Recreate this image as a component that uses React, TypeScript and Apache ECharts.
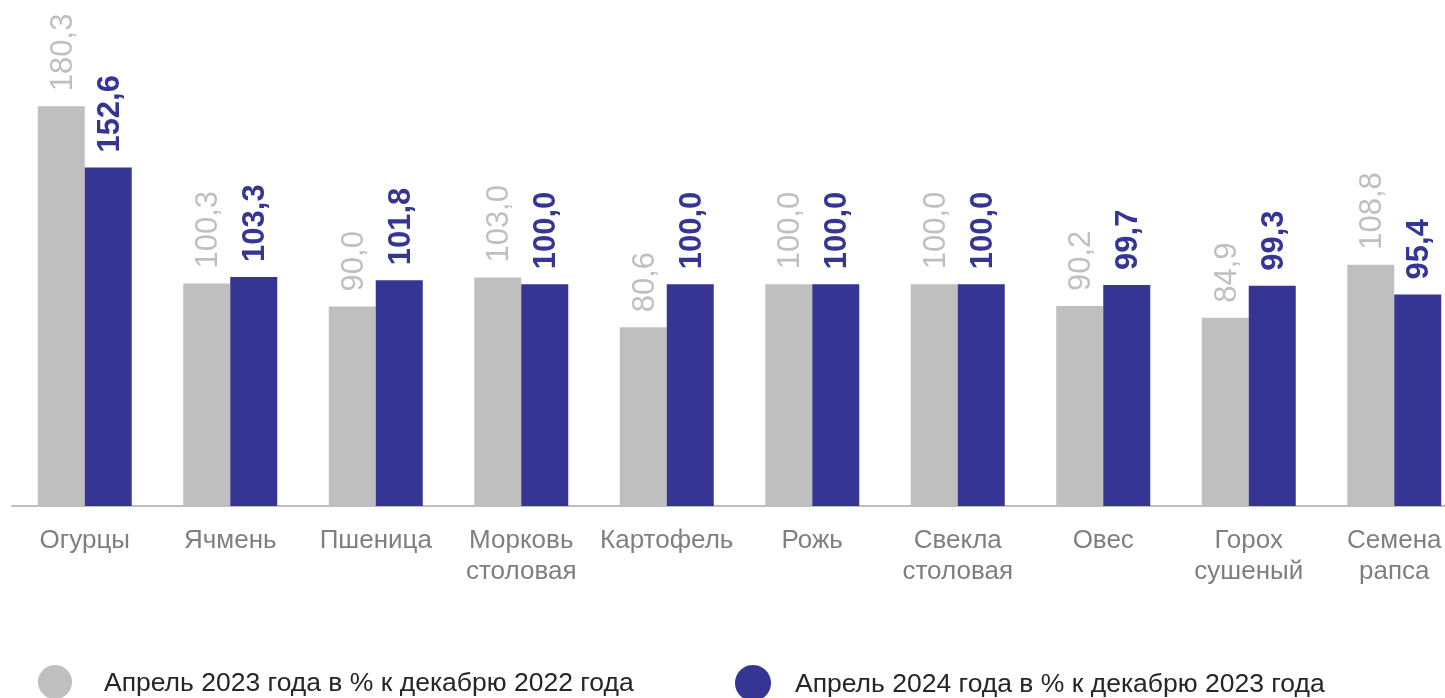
import React, { useEffect, useRef } from "react";
import * as echarts from "echarts";

const categories = [
  "Огурцы",
  "Ячмень",
  "Пшеница",
  "Морковь\nстоловая",
  "Картофель",
  "Рожь",
  "Свекла\nстоловая",
  "Овес",
  "Горох\nсушеный",
  "Семена\nрапса",
];
const series2023 = [180.3, 100.3, 90.0, 103.0, 80.6, 100.0, 100.0, 90.2, 84.9, 108.8];
const series2024 = [152.6, 103.3, 101.8, 100.0, 100.0, 100.0, 100.0, 99.7, 99.3, 95.4];
const name2023 = "Апрель 2023 года в % к декабрю 2022 года";
const name2024 = "Апрель 2024 года в % к декабрю 2023 года";

const GREY = "#BFBFBF";
const BLUE = "#353594";
const FONT = "'Liberation Sans', Arial, sans-serif";

const fmt = (p: any) => Number(p.value).toFixed(1).replace(".", ",");

export default function App() {
  const ref = useRef<HTMLDivElement>(null);
  useEffect(() => {
    if (!ref.current) return;
    const chart = echarts.init(ref.current, null, { renderer: "svg" });
    const labelBase = {
      show: true,
      position: "top" as const,
      rotate: 90,
      align: "left" as const,
      verticalAlign: "middle" as const,
      distance: 15,
      fontSize: 31,
      fontFamily: FONT,
      formatter: fmt,
    };
    chart.setOption({
      animation: false,
      textStyle: { fontFamily: FONT },
      grid: { left: 12, right: 0, top: 62.5, bottom: 192, containLabel: false },
      legend: [
        {
          data: [name2023],
          left: 38,
          top: 663,
          padding: 0,
          icon: "circle",
          itemWidth: 34,
          itemHeight: 34,
          selectedMode: false,
          textStyle: { fontSize: 26.5, color: "#262626", padding: [8, 0, 0, 27], lineHeight: 30, fontFamily: FONT },
        },
        {
          data: [name2024],
          left: 735,
          top: 664,
          padding: 0,
          icon: "circle",
          itemWidth: 36,
          itemHeight: 36,
          selectedMode: false,
          textStyle: { fontSize: 26.5, color: "#262626", padding: [8, 0, 0, 19], lineHeight: 30, fontFamily: FONT },
        },
      ],
      xAxis: {
        type: "category",
        data: categories,
        axisLine: { show: true, lineStyle: { color: GREY, width: 2 } },
        axisTick: { show: false },
        axisLabel: {
          interval: 0,
          fontSize: 26,
          lineHeight: 31,
          color: "#7F7F7F",
          margin: 17,
          fontFamily: FONT,
        },
      },
      yAxis: {
        type: "value",
        min: 0,
        max: 200,
        show: false,
        splitLine: { show: false },
      },
      series: [
        {
          name: name2023,
          type: "bar",
          data: series2023,
          barWidth: 47,
          barGap: "0%",
          itemStyle: { color: GREY },
          label: { ...labelBase, color: GREY, fontWeight: "normal" },
        },
        {
          name: name2024,
          type: "bar",
          data: series2024,
          barWidth: 47,
          barGap: "0%",
          itemStyle: { color: BLUE },
          label: { ...labelBase, color: BLUE, fontWeight: "bold" },
        },
      ],
    });
    return () => chart.dispose();
  }, []);
  return (
    <div
      ref={ref}
      style={{ position: "fixed", left: 0, top: 0, width: 1467, height: 698 }}
    />
  );
}
